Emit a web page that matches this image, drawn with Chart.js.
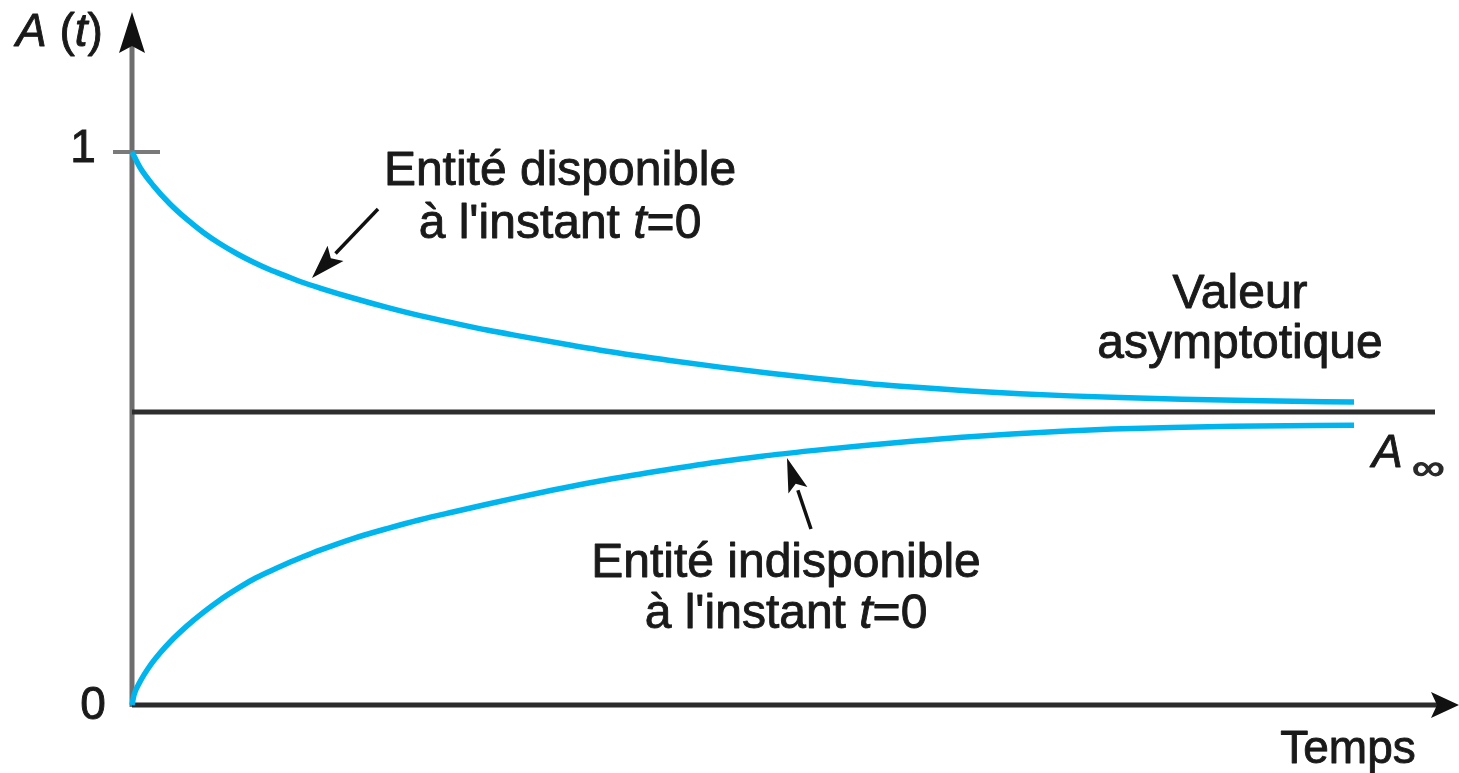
<!DOCTYPE html>
<html>
<head>
<meta charset="utf-8">
<script src="https://cdn.jsdelivr.net/npm/chart.js@4.4.1/dist/chart.umd.min.js"></script>
<style>
  html, body { margin: 0; padding: 0; background: #ffffff; }
  canvas { display: block; }
</style>
</head>
<body>
<canvas id="c" width="1459" height="773"></canvas>
<script>
// ---- Data (time in arbitrary units, availability A(t)) ----
const tUpper = [0, 0.08, 0.21, 0.38, 0.55, 0.71, 0.88, 1.05, 1.21, 1.38, 1.55, 1.71, 1.88, 2.21, 2.55, 2.88, 3.21, 3.55, 3.88, 4.38, 4.88, 5.38, 5.88, 6.38, 6.88, 7.38, 7.88, 8.38, 8.88, 9.38, 9.88, 10.5, 11.3, 12.22];
const aUpper = [1.000, 0.972, 0.940, 0.906, 0.878, 0.855, 0.834, 0.816, 0.801, 0.787, 0.775, 0.764, 0.754, 0.736, 0.719, 0.704, 0.691, 0.678, 0.667, 0.651, 0.636, 0.623, 0.611, 0.600, 0.590, 0.581, 0.574, 0.568, 0.563, 0.559, 0.556, 0.553, 0.550, 0.548];

const tLower = [0, 0.02, 0.08, 0.18, 0.28, 0.38, 0.55, 0.71, 0.88, 1.05, 1.21, 1.38, 1.55, 1.71, 1.88, 2.21, 2.55, 2.88, 3.21, 3.55, 3.85, 4.3, 4.8, 5.3, 5.8, 6.3, 6.8, 7.3, 7.8, 8.3, 8.8, 9.3, 9.8, 10.4, 11.0, 12.22];
const aLower = [0.000, 0.018, 0.042, 0.071, 0.094, 0.114, 0.143, 0.167, 0.190, 0.210, 0.227, 0.242, 0.256, 0.268, 0.280, 0.301, 0.319, 0.335, 0.349, 0.363, 0.375, 0.392, 0.409, 0.424, 0.438, 0.450, 0.460, 0.469, 0.477, 0.484, 0.490, 0.495, 0.499, 0.502, 0.504, 0.506];

const aInf = 0.53;                 // asymptotic value A∞
const asymptoteSpan = [0, 13.03];  // extent of the A∞ line on the time axis
const yTickValues = [0, 1];
const yTickLabels = ['0', '1'];
const xAxisTitle = 'Temps';
const yAxisTitle = ['A', ' (', 't', ')'];

const toPts = (xs, ys) => xs.map((x, i) => ({ x: x, y: ys[i] }));

const FONT = "'Liberation Sans', Arial, Helvetica, sans-serif";
const TEXT = '#1a1a1a';
const CURVE = '#00b4ee';

function richWidth(ctx, segs, size) {
  let w = 0;
  segs.forEach(s => { ctx.font = (s.i ? 'italic ' : '') + size + 'px ' + FONT; w += ctx.measureText(s.t).width; });
  return w;
}
function drawRich(ctx, segs, x, baseline, size, align) {
  const w = richWidth(ctx, segs, size);
  let cx = align === 'center' ? x - w / 2 : (align === 'right' ? x - w : x);
  ctx.textAlign = 'left';
  ctx.textBaseline = 'alphabetic';
  ctx.fillStyle = TEXT;
  ctx.strokeStyle = TEXT;
  ctx.lineWidth = 0.9;
  ctx.lineJoin = 'round';
  segs.forEach(s => {
    ctx.font = (s.i ? 'italic ' : '') + size + 'px ' + FONT;
    ctx.fillText(s.t, cx, baseline);
    ctx.strokeText(s.t, cx, baseline);
    cx += ctx.measureText(s.t).width;
  });
}
function arrow(ctx, x1, y1, x2, y2, len, half, lw, color) {
  const ang = Math.atan2(y2 - y1, x2 - x1);
  const bx = x2 - len * Math.cos(ang), by = y2 - len * Math.sin(ang);
  ctx.strokeStyle = color; ctx.lineWidth = lw; ctx.lineCap = 'butt';
  ctx.beginPath(); ctx.moveTo(x1, y1); ctx.lineTo(bx, by); ctx.stroke();
  ctx.fillStyle = color;
  ctx.beginPath();
  ctx.moveTo(x2, y2);
  ctx.lineTo(bx + half * Math.sin(ang), by - half * Math.cos(ang));
  ctx.lineTo(x2 - 0.8 * len * Math.cos(ang), y2 - 0.8 * len * Math.sin(ang));
  ctx.lineTo(bx - half * Math.sin(ang), by + half * Math.cos(ang));
  ctx.closePath(); ctx.fill();
}

const axesPlugin = {
  id: 'axesPlugin',
  beforeDatasetsDraw(chart) {
    const ctx = chart.ctx;
    const xs = chart.scales.x, ys = chart.scales.y;
    const x0 = xs.getPixelForValue(0);
    const y0 = ys.getPixelForValue(0);
    const yTop = ys.getPixelForValue(ys.max);
    const xEnd = xs.getPixelForValue(xs.max);
    ctx.save();
    // y axis
    ctx.strokeStyle = '#6e6e6e'; ctx.lineWidth = 5;
    ctx.beginPath(); ctx.moveTo(x0, y0 + 2); ctx.lineTo(x0, yTop + 4); ctx.stroke();
    // y arrowhead
    ctx.fillStyle = '#111';
    ctx.beginPath();
    ctx.moveTo(x0, 12);
    ctx.lineTo(x0 + 13, 53);
    ctx.lineTo(x0, 46);
    ctx.lineTo(x0 - 13, 53);
    ctx.closePath(); ctx.fill();
    // x axis
    ctx.strokeStyle = '#2b2b2b'; ctx.lineWidth = 5;
    ctx.beginPath(); ctx.moveTo(x0, y0); ctx.lineTo(xEnd, y0); ctx.stroke();
    ctx.fillStyle = '#111';
    ctx.beginPath();
    ctx.moveTo(1459, y0);
    ctx.lineTo(1431, y0 - 13);
    ctx.lineTo(1437, y0);
    ctx.lineTo(1431, y0 + 13);
    ctx.closePath(); ctx.fill();
    // tick at y = 1
    const y1 = ys.getPixelForValue(1);
    ctx.strokeStyle = '#7a7a7a'; ctx.lineWidth = 4;
    ctx.beginPath(); ctx.moveTo(x0 - 19, y1); ctx.lineTo(x0 + 28, y1); ctx.stroke();
    // tick labels
    ctx.fillStyle = TEXT; ctx.strokeStyle = TEXT; ctx.lineWidth = 0.9;
    ctx.textAlign = 'center'; ctx.textBaseline = 'alphabetic';
    ctx.font = '46px ' + FONT;
    yTickValues.forEach((v, i) => {
      const py = ys.getPixelForValue(v);
      const px = x0 - (v === 0 ? 39 : 49);
      const by = py + (v === 0 ? 14 : 10);
      ctx.fillText(yTickLabels[i], px, by);
      ctx.strokeText(yTickLabels[i], px, by);
    });
    ctx.restore();
  },
  afterDatasetsDraw(chart) {
    const ctx = chart.ctx;
    ctx.save();
    // axis titles
    drawRich(ctx, [{ t: yAxisTitle[0], i: true }, { t: yAxisTitle[1], i: false }, { t: yAxisTitle[2], i: true }, { t: yAxisTitle[3], i: false }], 16, 46, 46, 'left');
    drawRich(ctx, [{ t: xAxisTitle, i: false }], 1348, 763, 46, 'center');
    // A∞
    drawRich(ctx, [{ t: 'A', i: true }], 1372, 467, 46, 'left');
    ctx.save();
    ctx.translate(1412, 479);
    ctx.scale(1.35, 1);
    ctx.font = '34px ' + FONT; ctx.fillStyle = '#2a2a2a'; ctx.strokeStyle = '#2a2a2a'; ctx.lineWidth = 1.2;
    ctx.textAlign = 'left'; ctx.textBaseline = 'alphabetic';
    ctx.fillText('\u221E', 0, 0);
    ctx.strokeText('\u221E', 0, 0);
    ctx.restore();
    // annotations
    drawRich(ctx, [{ t: 'Entité disponible', i: false }], 560, 185, 48, 'center');
    drawRich(ctx, [{ t: "à l'instant ", i: false }, { t: 't', i: true }, { t: '=0', i: false }], 560, 238, 48, 'center');
    drawRich(ctx, [{ t: 'Valeur', i: false }], 1240, 308, 48, 'center');
    drawRich(ctx, [{ t: 'asymptotique', i: false }], 1240, 358, 48, 'center');
    drawRich(ctx, [{ t: 'Entité indisponible', i: false }], 786, 577, 48, 'center');
    drawRich(ctx, [{ t: "à l'instant ", i: false }, { t: 't', i: true }, { t: '=0', i: false }], 786, 628, 48, 'center');
    arrow(ctx, 378, 209, 312, 278, 34, 11, 3.5, '#111');
    arrow(ctx, 811, 529, 787, 458, 34, 10, 3.5, '#111');
    ctx.restore();
  }
};

new Chart(document.getElementById('c'), {
  type: 'scatter',
  data: {
    datasets: [
      {
        label: 'A∞',
        data: [{ x: asymptoteSpan[0], y: aInf }, { x: asymptoteSpan[1], y: aInf }],
        showLine: true, borderColor: '#2e2e2e', borderWidth: 5, pointRadius: 0, clip: false
      },
      {
        label: 'Entité disponible à t=0',
        data: toPts(tUpper, aUpper),
        showLine: true, borderColor: CURVE, borderWidth: 5.5, pointRadius: 0,
        cubicInterpolationMode: 'monotone', clip: false, borderCapStyle: 'butt'
      },
      {
        label: 'Entité indisponible à t=0',
        data: toPts(tLower, aLower),
        showLine: true, borderColor: CURVE, borderWidth: 5.5, pointRadius: 0,
        cubicInterpolationMode: 'monotone', clip: false, borderCapStyle: 'butt'
      }
    ]
  },
  options: {
    responsive: false,
    animation: false,
    events: [],
    layout: { padding: { left: 132, right: 19, top: 41.4, bottom: 68 } },
    scales: {
      x: { type: 'linear', min: 0, max: 13.08, display: false },
      y: { type: 'linear', min: 0, max: 1.2, display: false }
    },
    plugins: { legend: { display: false }, tooltip: { enabled: false } }
  },
  plugins: [axesPlugin]
});
</script>
</body>
</html>
